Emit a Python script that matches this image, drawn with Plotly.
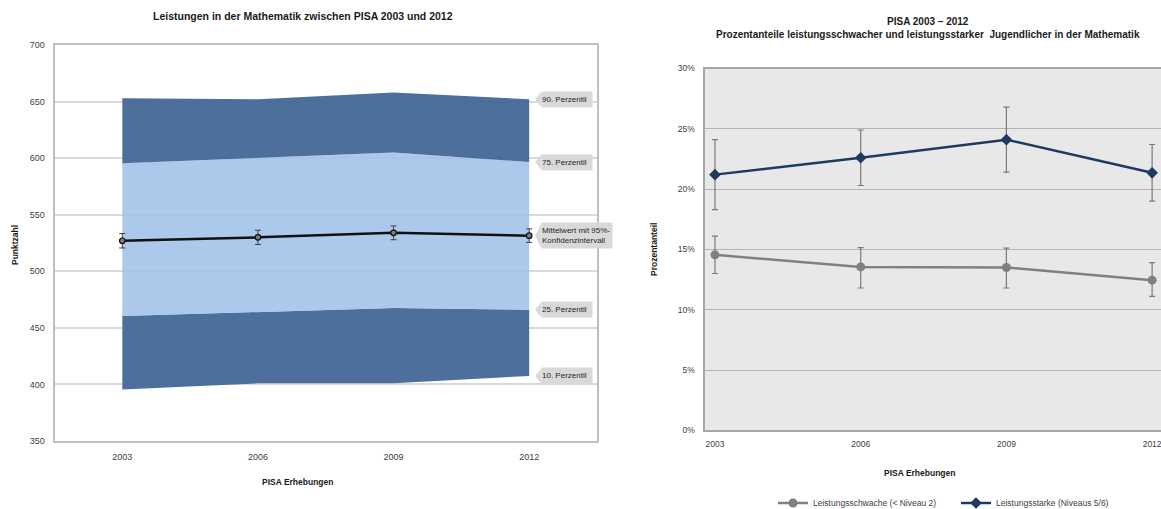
import plotly.graph_objects as go

# ---------------- data ----------------
years = ["2003", "2006", "2009", "2012"]

# left chart: mathematics scores (percentiles and mean)
p10 = [395.5, 401, 401, 407.5]
p25 = [460.5, 464, 467.5, 466]
p75 = [595.5, 600, 605, 596.5]
p90 = [653, 652, 658, 652]
mean = [527, 530, 534, 531.5]
mean_ci = [6.4, 6.3, 6.1, 6.0]
left_yticks = [350, 400, 450, 500, 550, 600, 650, 700]
callout_labels = ["90. Perzentil", "75. Perzentil", "Mittelwert mit 95%-<br>Konfidenzintervall",
                  "25. Perzentil", "10. Perzentil"]

# right chart: shares of low / high performers (%)
low_share = [14.55, 13.55, 13.5, 12.45]
low_err_plus = [1.55, 1.6, 1.6, 1.45]
low_err_minus = [1.55, 1.75, 1.7, 1.35]
high_share = [21.2, 22.6, 24.1, 21.35]
high_err_plus = [2.9, 2.3, 2.7, 2.35]
high_err_minus = [2.9, 2.3, 2.7, 2.35]
right_yticks = [0, 5, 10, 15, 20, 25, 30]
right_yticklabels = ["0%", "5%", "10%", "15%", "20%", "25%", "30%"]

# ---------------- styling ----------------
FONT = "Liberation Sans, Arial, sans-serif"
DARK = "rgba(62,100,148,0.93)"
LIGHT = "rgba(160,192,232,0.88)"
TXT = "#404040"

W, H = 1161, 509


def px(x):
    return x / W


def py(y):
    return 1 - y / H


fig = go.Figure()

# ---- left chart: percentile bands ----
fig.add_trace(go.Scatter(x=years, y=p10, mode="lines", line=dict(width=0, color=DARK),
                         showlegend=False, hoverinfo="skip", xaxis="x", yaxis="y"))
fig.add_trace(go.Scatter(x=years, y=p25, mode="lines", line=dict(width=0, color=DARK),
                         fill="tonexty", fillcolor=DARK, showlegend=False, xaxis="x", yaxis="y"))
fig.add_trace(go.Scatter(x=years, y=p75, mode="lines", line=dict(width=0, color=LIGHT),
                         fill="tonexty", fillcolor=LIGHT, showlegend=False, xaxis="x", yaxis="y"))
fig.add_trace(go.Scatter(x=years, y=p90, mode="lines", line=dict(width=0, color=DARK),
                         fill="tonexty", fillcolor=DARK, showlegend=False, xaxis="x", yaxis="y"))
fig.add_trace(go.Scatter(
    x=years, y=mean, mode="lines+markers",
    line=dict(color="#111111", width=2.5),
    marker=dict(symbol="circle", size=5.5, color="#7f7f7f", line=dict(color="#111111", width=1.2)),
    error_y=dict(type="data", array=mean_ci, color="#404040", thickness=1, width=3),
    showlegend=False, xaxis="x", yaxis="y"))

# ---- right chart ----
fig.add_trace(go.Scatter(
    x=years, y=low_share, mode="lines+markers", name="Leistungsschwache (< Niveau 2)",
    line=dict(color="#808080", width=2.5),
    marker=dict(symbol="circle", size=9, color="#808080"),
    error_y=dict(type="data", array=low_err_plus, arrayminus=low_err_minus,
                 color="#7a7a7a", thickness=1.2, width=3),
    xaxis="x2", yaxis="y2"))
fig.add_trace(go.Scatter(
    x=years, y=high_share, mode="lines+markers", name="Leistungsstarke (Niveaus 5/6)",
    line=dict(color="#1f3a60", width=2.5),
    marker=dict(symbol="diamond", size=9, color="#1f3a60"),
    error_y=dict(type="data", array=high_err_plus, arrayminus=high_err_minus,
                 color="#7a7a7a", thickness=1.2, width=3),
    xaxis="x2", yaxis="y2"))

# ---- callouts on left chart (positioned at the 2012 values) ----
last_vals = [p90[-1], p75[-1], mean[-1], p25[-1], p10[-1]]
half_heights = [6.8, 6.8, 11.2, 6.8, 6.8]
box_widths = [50, 50, 70, 50, 50]
shapes = []
annotations = []
tip_x, rect_x = 3.044, 3.09
for lab, yv, hh, bw in zip(callout_labels, last_vals, half_heights, box_widths):
    shapes.append(dict(type="path", xref="x", yref="y",
                       path=f"M {tip_x} {yv} L {rect_x} {yv + hh} L {rect_x} {yv - hh} Z",
                       fillcolor="#d9d9d9", line=dict(width=0), layer="above"))
    annotations.append(dict(xref="x", yref="y", x=rect_x, y=yv, xanchor="left", yanchor="middle",
                            text=lab, showarrow=False, bgcolor="#d9d9d9", borderpad=0,
                            width=bw, height=2 * hh * 1.131, align="left",
                            font=dict(family=FONT, size=8, color="#262626")))

# right plot grey background
shapes.append(dict(type="rect", xref="x2 domain", yref="y2 domain", x0=0, x1=1, y0=0, y1=1,
                   fillcolor="#e8e8e8", line=dict(width=0), layer="below"))

# titles and axis titles
annotations += [
    dict(xref="paper", yref="paper", x=px(303), y=py(16), xanchor="center", yanchor="middle",
         text="<b>Leistungen in der Mathematik zwischen PISA 2003 und 2012</b>", showarrow=False,
         font=dict(family=FONT, size=10.5, color="#1a1a1a")),
    dict(xref="paper", yref="paper", x=px(928), y=py(28), xanchor="center", yanchor="middle",
         text="<b>PISA 2003 – 2012</b><br><b>Prozentanteile leistungsschwacher und leistungsstarker  Jugendlicher in der Mathematik</b>",
         showarrow=False, font=dict(family=FONT, size=10, color="#1a1a1a")),
    dict(xref="paper", yref="paper", x=px(15), y=py(245), xanchor="center", yanchor="middle",
         text="<b>Punktzahl</b>", textangle=-90, showarrow=False,
         font=dict(family=FONT, size=8.5, color="#1a1a1a")),
    dict(xref="paper", yref="paper", x=px(654), y=py(250), xanchor="center", yanchor="middle",
         text="<b>Prozentanteil</b>", textangle=-90, showarrow=False,
         font=dict(family=FONT, size=8.5, color="#1a1a1a")),
    dict(xref="paper", yref="paper", x=px(297), y=py(482), xanchor="center", yanchor="middle",
         text="<b>PISA Erhebungen</b>", showarrow=False,
         font=dict(family=FONT, size=8.5, color="#1a1a1a")),
    dict(xref="paper", yref="paper", x=px(919), y=py(473), xanchor="center", yanchor="middle",
         text="<b>PISA Erhebungen</b>", showarrow=False,
         font=dict(family=FONT, size=8.5, color="#1a1a1a")),
]

fig.update_layout(
    width=W, height=H,
    margin=dict(l=0, r=0, t=0, b=0, autoexpand=False),
    paper_bgcolor="white",
    plot_bgcolor="white",
    font=dict(family=FONT, size=9, color=TXT),
    shapes=shapes,
    annotations=annotations,
    xaxis=dict(domain=[px(54.5), px(597)], type="category", range=[-0.5, 3.5], automargin=False,
               showgrid=False, showline=True, linecolor="#bfbfbf", linewidth=2, mirror=True,
               ticks="", tickfont=dict(size=9, color=TXT), ticklabelstandoff=6, zeroline=False),
    yaxis=dict(domain=[py(441), py(45)], range=[350, 700], tickvals=left_yticks,
               automargin=False,
               showgrid=True, gridcolor="#d9d9d9", gridwidth=1.5,
               showline=True, linecolor="#bfbfbf", linewidth=2, mirror=True,
               ticks="", tickfont=dict(size=9, color=TXT), ticklabelstandoff=6, zeroline=False),
    xaxis2=dict(domain=[px(704.5), 1.0], type="category", range=[-0.072, 3.061], anchor="y2",
                automargin=False,
                showgrid=False, showline=True, linecolor="#a6a6a6", linewidth=2, mirror=True,
                ticks="", tickfont=dict(size=8.5, color=TXT), ticklabelstandoff=4, zeroline=False),
    yaxis2=dict(domain=[py(430.3), py(68.5)], range=[0, 30], tickvals=right_yticks,
                ticktext=right_yticklabels, anchor="x2", automargin=False,
                showgrid=True, gridcolor="#b3b3b3", gridwidth=1,
                showline=True, linecolor="#a6a6a6", linewidth=2,
                ticks="", tickfont=dict(size=8.5, color=TXT), ticklabelstandoff=6, zeroline=False),
    legend=dict(orientation="h", x=px(773), y=py(503), xanchor="left", yanchor="middle",
                font=dict(family=FONT, size=8.5, color=TXT), bgcolor="rgba(0,0,0,0)",
                itemwidth=30, entrywidth=138, entrywidthmode="pixels", traceorder="normal"),
)

fig.write_html("out.html",
               config={"displayModeBar": False},
               post_script="document.body.style.margin='0';document.body.style.overflow='hidden';")
